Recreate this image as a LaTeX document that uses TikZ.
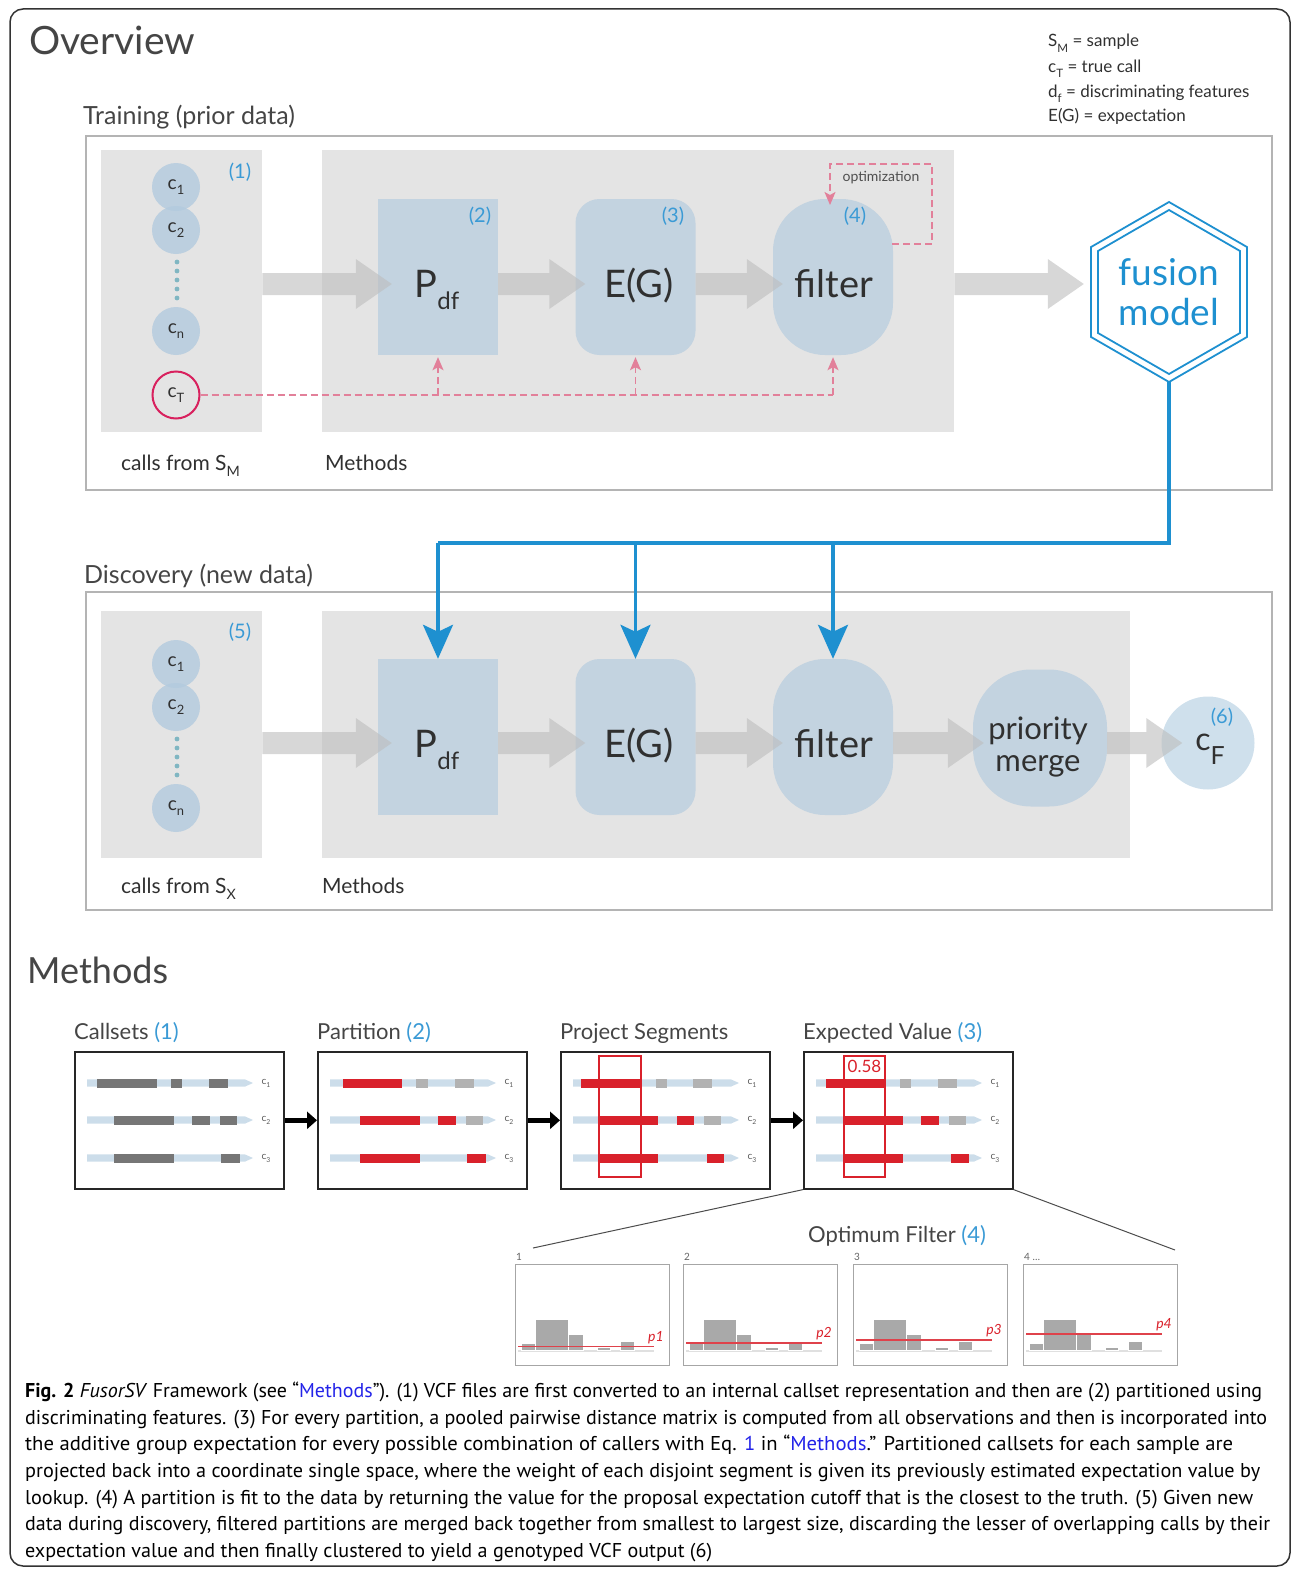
\documentclass[tikz,border=0pt]{standalone}
\usepackage{fontspec}
\usepackage{graphicx}
\setmainfont{Lato}
\newfontfamily\capfont{PT Sans}
\usetikzlibrary{calc,arrows.meta}

\definecolor{ink}{HTML}{303030}
\definecolor{panelbg}{HTML}{E4E4E4}
\definecolor{boxblue}{HTML}{C3D3E0}
\definecolor{circblue}{HTML}{B2CADE}
\definecolor{cfblue}{HTML}{CFE0EC}
\definecolor{dotteal}{HTML}{80B6C2}
\definecolor{numblue}{HTML}{3A9AD5}
\definecolor{fuseblue}{HTML}{1E90D0}
\definecolor{linkblue}{HTML}{2323E8}
\definecolor{pinkdash}{HTML}{E2809A}
\definecolor{truered}{HTML}{D8215E}
\definecolor{framegray}{HTML}{B4B4B4}
\definecolor{arrowgray}{HTML}{BDBDBD}
\definecolor{trackblue}{HTML}{CCDDEA}
\definecolor{segdark}{HTML}{767676}
\definecolor{seglight}{HTML}{B2B2B2}
\definecolor{segred}{HTML}{D9212B}
\definecolor{histgray}{HTML}{A9A9A9}

% low, small subscript
\newcommand\lsub[1]{\raisebox{-0.3em}{\scalebox{0.68}{#1}}}
\newlength\fitw
% set a caption line at a given width (pt)
\newcommand\fitline[2]{\settowidth\fitw{#2}\pgfmathsetmacro\fitsc{#1/\fitw}\scalebox{\fitsc}[1]{#2}}
% wide grey flow arrow: from east side of #1 to west side of #2, at height #3, tip overshoot #4
\newcommand\flowarrow[4]{%
  \fill[flow] let \p1=(#1.east), \p2=(#2.west), \p3=(0,#3) in
    (\x1,\y3+11pt) -- (\x2+#4pt-36pt,\y3+11pt) -- (\x2+#4pt-36pt,\y3+25pt)
    -- (\x2+#4pt,\y3) -- (\x2+#4pt-36pt,\y3-25pt) -- (\x2+#4pt-36pt,\y3-11pt)
    -- (\x1,\y3-11pt) -- cycle;}
% one coloured segment on a call track
\newcommand\seg[4]{\fill[#1] (#2,#4-4.5) rectangle (#3,#4+4.5);}
% three call tracks with their labels
\newcommand\tracks[1]{%
  \foreach \r/\yy in {1/32,2/69,3/107}{%
    \fill[trackblue] (13,\yy-3.6) -- (171,\yy-3.6) -- (179,\yy) -- (171,\yy+3.6) -- (13,\yy+3.6) -- cycle;
    \node[tlab] (#1c\r) at (192,\yy) {c\lsub{\r}};}}

\begin{document}
\begin{tikzpicture}[x=1pt,y=-1pt,
  every node/.style={inner sep=0pt,text=ink},
  panel/.style={fill=panelbg,anchor=north west},
  bluebox/.style={fill=boxblue,minimum width=120pt,minimum height=156pt},
  callcirc/.style={circle,fill=circblue,fill opacity=.8,text opacity=1,minimum size=48pt,font=\fontsize{19}{19}\selectfont},
  num/.style={text=numblue,font=\fontsize{20}{20}\selectfont},
  bigtxt/.style={anchor=base,font=\fontsize{38}{38}\selectfont},
  sect/.style={anchor=base west,font=\fontsize{25}{25}\selectfont,text=ink!90},
  lbl/.style={anchor=base west,font=\fontsize{21}{21}\selectfont},
  legend/.style={anchor=base west,font=\fontsize{17}{17}\selectfont},
  flow/.style={fill=arrowgray,fill opacity=.6},
  pinkd/.style={draw=pinkdash,line width=1.6pt,dash pattern=on 7pt off 4pt},
  pinktip/.style={-{Stealth[length=13pt,width=11pt,inset=3pt]}},
  fuse/.style={draw=fuseblue,line width=3.4pt},
  fusetip/.style={-{Stealth[length=34pt,width=30pt,inset=7pt]}},
  mpanel/.style={draw=black!85,line width=1.6pt,minimum width=209pt,minimum height=137pt,anchor=north west},
  ptitle/.style={anchor=base west,font=\fontsize{22}{22}\selectfont,text=ink!90},
  tlab/.style={font=\fontsize{10}{10}\selectfont,text=ink!80},
  hpanel/.style={draw=black!35,line width=1.3pt,minimum width=154pt,minimum height=101pt,anchor=north west},
  capline/.style={anchor=base west,text=black,font=\capfont\fontsize{20}{20}\selectfont}
]
\useasboundingbox (0,0) rectangle (1295,1571);
\draw[black!80,line width=1.5pt,rounded corners=13pt] (10,9) rectangle (1290,1566);

% ---------- header ----------
\node[anchor=base west,font=\fontsize{39}{39}\selectfont,text=ink!90] (ovtitle) at (29,55) {Overview};
\node[legend] (leg1) at (1048,47) {S\lsub{M} = sample};
\node[legend] (leg2) at (1048,72) {c\lsub{T} = true call};
\node[legend] (leg3) at (1048,97) {d\lsub{f} = discriminating features};
\node[legend] (leg4) at (1048,121) {E(G) = expectation};

% ---------- training ----------
\node[sect] (trtitle) at (83,124) {Training (prior data)};
\draw[framegray,line width=2pt] (86,136) rectangle (1272,490);
\node[panel,minimum width=161pt,minimum height=282pt] (tleft) at (101,150) {};
\node[panel,minimum width=632pt,minimum height=282pt] (tmeth) at (322,150) {};
\node[bluebox] (tpdf) at (438,277) {};
\node[bluebox,rounded corners=24pt] (teg) at (635.5,277) {};
\node[bluebox,rounded corners=52pt] (tfil) at (833,277) {};

\node[callcirc] (tc1) at (176,187) {c\lsub{1}};
\node[callcirc] (tc2) at (176,230) {c\lsub{2}};
\foreach \k in {0,...,4} \fill[dotteal] (177,262+9*\k) circle[radius=2.4pt];
\node[callcirc] (tcn) at (176,331) {c\lsub{n}};
\node[circle,draw=truered,line width=2pt,minimum size=47pt,font=\fontsize{19}{19}\selectfont] (tct) at (176,395) {c\lsub{T}};

\node[num] (tn1) at (240,172) {(1)};
\node[num] (tn2) at (480,216) {(2)};
\node[num] (tn3) at (673,216) {(3)};
\node[num] (tn4) at (855,216) {(4)};

% truth feeds each method
\draw[pinkd] (tct.east) -- (tct.east -| tfil.south);
\foreach \b in {tpdf,teg,tfil} \draw[pinkd,pinktip] (tct.east -| \b.south) -- ([yshift=-2pt]\b.south);

% optimization loop on the filter
\coordinate (optout) at (892,244);
\coordinate (optin) at (830,205);
\draw[pinkd,pinktip] (optout) -- (932,244) -- (932,164) -- (830,164) -- (optin);
\node[font=\fontsize{14}{14}\selectfont,text=ink!85] (optlbl) at (881,178) {optimization};

% fusion model
\node[align=center,text=fuseblue,font=\fontsize{37}{40}\selectfont,minimum width=158pt,minimum height=180pt] (hex) at (1169,292) {fusion\\model};
\draw[fuseblue,line width=1.8pt] ($(hex.center)+(30:90pt)$) \foreach \a in {90,150,...,330} {-- ($(hex.center)+(\a:90pt)$)} -- cycle;
\draw[fuseblue,line width=1.8pt] ($(hex.center)+(30:82pt)$) \foreach \a in {90,150,...,330} {-- ($(hex.center)+(\a:82pt)$)} -- cycle;

\node[bigtxt] (tpdfT) at (437,297) {P\raisebox{-12pt}{\fontsize{24}{24}\selectfont df}};
\node[bigtxt] (tegT) at (639,297) {E(G)};
\node[bigtxt] (tfilT) at (834,297) {filter};

\flowarrow{tleft}{tpdf}{284}{14}
\flowarrow{tpdf}{teg}{284}{10}
\flowarrow{teg}{tfil}{284}{10}
\flowarrow{tmeth}{hex}{284}{-6}

\node[lbl] (tcalls) at (121,470) {calls from S\lsub{M}};
\node[lbl] (tmlbl) at (325,470) {Methods};

% ---------- discovery ----------
\node[sect] (dstitle) at (84,583) {Discovery (new data)};
\draw[framegray,line width=2pt] (86,592) rectangle (1272,910);
\node[panel,minimum width=161pt,minimum height=247pt] (dleft) at (101,611) {};
\node[panel,minimum width=808pt,minimum height=247pt] (dmeth) at (322,611) {};
\node[bluebox] (dpdf) at (438,737) {};
\node[bluebox,rounded corners=24pt] (deg) at (635.5,737) {};
\node[bluebox,rounded corners=52pt] (dfil) at (833,737) {};
\node[fill=boxblue,minimum width=134pt,minimum height=137pt,rounded corners=58pt] (dmrg) at (1040,738) {};
\node[circle,fill=cfblue,minimum size=93pt] (dcf) at (1208,743) {};

\node[callcirc] (dc1) at (176,664) {c\lsub{1}};
\node[callcirc] (dc2) at (176,707) {c\lsub{2}};
\foreach \k in {0,...,4} \fill[dotteal] (177,739+9*\k) circle[radius=2.4pt];
\node[callcirc] (dcn) at (176,808) {c\lsub{n}};
\node[num] (dn5) at (240,632) {(5)};
\node[num] (dn6) at (1222,717) {(6)};

\node[bigtxt] (dpdfT) at (437,757) {P\raisebox{-12pt}{\fontsize{24}{24}\selectfont df}};
\node[bigtxt] (degT) at (639,757) {E(G)};
\node[bigtxt] (dfilT) at (834,757) {filter};
\node[align=center,font=\fontsize{31}{32}\selectfont] (dmrgT) at (1038,747) {priority\\merge};
\node[anchor=base,font=\fontsize{32}{32}\selectfont] (dcfT) at (1210,750) {c\raisebox{-14pt}{\fontsize{25}{25}\selectfont F}};

\flowarrow{dleft}{dpdf}{743}{14}
\flowarrow{dpdf}{deg}{743}{10}
\flowarrow{deg}{dfil}{743}{10}
\flowarrow{dfil}{dmrg}{743}{11}
\flowarrow{dmrg}{dcf}{743}{21}

\node[lbl] (dcalls) at (121,893) {calls from S\lsub{X}};
\node[lbl] (dmlbl) at (322,893) {Methods};

% model applied to the discovery methods
\coordinate (bus) at (1169,543);
\draw[fuse] (hex.south) -- (bus) -- (bus -| dpdf.north);
\foreach \b in {dpdf,deg,dfil} \draw[fuse,fusetip] (bus -| \b.north) -- (\b.north);

% ---------- methods ----------
\node[anchor=base west,font=\fontsize{36}{36}\selectfont,text=ink!90] (mtitle) at (27,983) {Methods};

\node[mpanel] (m1) at (74,1051) {};
\node[mpanel] (m2) at (317,1051) {};
\node[mpanel] (m3) at (560,1051) {};
\node[mpanel] (m4) at (803,1051) {};
\node[ptitle] (m1t) at (74,1039) {Callsets \textcolor{numblue}{(1)}};
\node[ptitle] (m2t) at (317,1039) {Partition \textcolor{numblue}{(2)}};
\node[ptitle] (m3t) at (560,1039) {Project Segments};
\node[ptitle] (m4t) at (803,1039) {Expected Value \textcolor{numblue}{(3)}};
\foreach \a/\b in {m1/m2,m2/m3,m3/m4}
  \draw[black,line width=5pt,-{Triangle[length=10pt,width=17pt]}] (\a.east) -- (\b.west);

\begin{scope}[shift={(m1.north west)}]
  \tracks{m1}
  \seg{segdark}{23}{83}{32}\seg{segdark}{97}{108}{32}\seg{segdark}{135}{154}{32}
  \seg{segdark}{40}{100}{69}\seg{segdark}{118}{136}{69}\seg{segdark}{146}{163}{69}
  \seg{segdark}{40}{100}{107}\seg{segdark}{147}{166}{107}
\end{scope}
\begin{scope}[shift={(m2.north west)}]
  \tracks{m2}
  \seg{segred}{26}{85}{32}\seg{seglight}{99}{111}{32}\seg{seglight}{138}{157}{32}
  \seg{segred}{43}{103}{69}\seg{segred}{121}{139}{69}\seg{seglight}{149}{166}{69}
  \seg{segred}{43}{103}{107}\seg{segred}{150}{169}{107}
\end{scope}
\begin{scope}[shift={(m3.north west)}]
  \tracks{m3}
  \seg{segred}{21}{81}{32}\seg{seglight}{96}{107}{32}\seg{seglight}{133}{152}{32}
  \seg{segred}{39}{98}{69}\seg{segred}{117}{134}{69}\seg{seglight}{144}{161}{69}
  \seg{segred}{39}{98}{107}\seg{segred}{147}{164}{107}
  \draw[segred,line width=1.2pt] (39,5) rectangle (81,126);
\end{scope}
\begin{scope}[shift={(m4.north west)}]
  \tracks{m4}
  \seg{segred}{23}{82}{32}\seg{seglight}{97}{108}{32}\seg{seglight}{135}{154}{32}
  \seg{segred}{41}{100}{69}\seg{segred}{118}{136}{69}\seg{seglight}{146}{163}{69}
  \seg{segred}{41}{100}{107}\seg{segred}{148}{166}{107}
  \draw[segred,line width=1.2pt] (41,5) rectangle (82,126);
  \node[text=segred,font=\fontsize{17}{17}\selectfont] (m4val) at (61.5,15.5) {0.58};
\end{scope}

% zoom onto the optimum filter
\coordinate (zl) at (533,1248);
\coordinate (zr) at (1175,1250);
\draw[black!70,line width=1pt] (m4.south west) -- (zl);
\draw[black!70,line width=1pt] (m4.south east) -- (zr);
\node[ptitle] (oftitle) at (808,1242) {Optimum Filter \textcolor{numblue}{(4)}};

\foreach \i/\L/\p in {1/515/82.5,2/683/79,3/853/76,4/1023/70}{
  \node[hpanel] (h\i) at (\L,1264) {};
  \node[anchor=base west,font=\fontsize{10}{10}\selectfont,text=ink!75] (h\i n) at (\L+1,1260) {\i\ifnum\i=4\ \ldots\fi};
  \begin{scope}[shift={(h\i.north west)}]
    \fill[black!12] (3,85.5) rectangle (139,88);
    \foreach \a/\b/\t in {6.6/20.3/79,20.3/53.1/55,53.1/67.8/70,81.9/95.6/83,105.3/119/77}
      \filldraw[fill=histgray,draw=white,line width=0.5pt] (\a,\t) rectangle (\b,86.5);
    \draw[segred!85,line width=1.5pt] (3,\p) -- (139,\p);
    \node[font=\itshape\fontsize{14}{14}\selectfont,text=segred] (h\i p) at (141,\p-9) {p\i};
  \end{scope}
}

% ---------- caption ----------
\node[capline] (cap1) at (25,1397) {\fitline{1237}{\textbf{Fig. 2} \textit{FusorSV} Framework (see “\textcolor{linkblue}{Methods}”). (1) VCF files are first converted to an internal callset representation and then are (2) partitioned using}};
\node[capline] (cap2) at (25,1424) {\fitline{1242}{discriminating features. (3) For every partition, a pooled pairwise distance matrix is computed from all observations and then is incorporated into}};
\node[capline] (cap3) at (25,1450) {\fitline{1208}{the additive group expectation for every possible combination of callers with Eq. \textcolor{linkblue}{1} in “\textcolor{linkblue}{Methods}.” Partitioned callsets for each sample are}};
\node[capline] (cap4) at (25,1477) {\fitline{1235}{projected back into a coordinate single space, where the weight of each disjoint segment is given its previously estimated expectation value by}};
\node[capline] (cap5) at (25,1504) {\fitline{1228}{lookup. (4) A partition is fit to the data by returning the value for the proposal expectation cutoff that is the closest to the truth. (5) Given new}};
\node[capline] (cap6) at (25,1530) {\fitline{1245}{data during discovery, filtered partitions are merged back together from smallest to largest size, discarding the lesser of overlapping calls by their}};
\node[capline] (cap7) at (25,1557) {\fitline{687}{expectation value and then finally clustered to yield a genotyped VCF output (6)}};
\end{tikzpicture}
\end{document}
